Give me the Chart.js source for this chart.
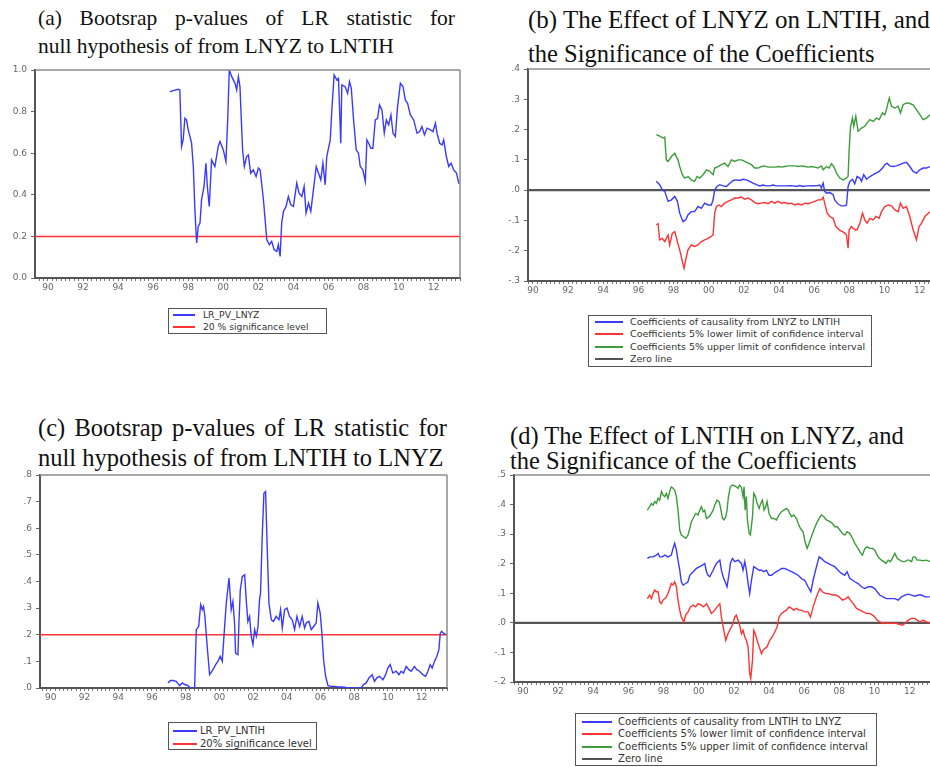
<!DOCTYPE html>
<html>
<head>
<meta charset="utf-8">
<script src="https://cdn.jsdelivr.net/npm/chart.js@4.4.1/dist/chart.umd.min.js"></script>
<style>
  html, body { margin: 0; padding: 0; background: #fff; }
  body { position: relative; width: 930px; height: 767px; overflow: hidden; }
  .ttl { position: absolute; font-family: 'Liberation Serif', 'Times New Roman', serif; color: #111; line-height: 1; white-space: nowrap; }
  .just { white-space: normal; text-align: justify; text-align-last: justify; }
  .box { position: absolute; }
  .box canvas { display: block; }
  .lg { position: absolute; box-sizing: border-box; border: 1px solid #555; background: #fff;
        font-family: 'DejaVu Sans', sans-serif; color: #333; }
  .lg .row { position: relative; }
  .lg .smp { position: absolute; height: 2px; top: 50%; margin-top: -1px; }
  .lg .txt { position: absolute; top: 50%; transform: translateY(-50%); line-height: 1; white-space: nowrap; }
</style>
</head>
<body>

<div class="ttl just" style="left:38px;top:8px;width:417px;font-size:21.5px">(a) Bootsrap p-values of LR statistic for</div>
<div class="ttl" style="left:38px;top:36px;font-size:21.5px">null hypothesis of from LNYZ to LNTIH</div>

<div class="ttl" style="left:528px;top:7px;font-size:25px">(b) The Effect of LNYZ on LNTIH, and</div>
<div class="ttl" style="left:528px;top:42px;font-size:24.5px">the Significance of the Coefficients</div>

<div class="ttl just" style="left:38px;top:416px;width:409px;font-size:24.5px">(c) Bootsrap p-values of LR statistic for</div>
<div class="ttl" style="left:38px;top:446px;font-size:24.5px">null hypothesis of from LNTIH to LNYZ</div>

<div class="ttl" style="left:510px;top:424px;font-size:24.5px">(d) The Effect of LNTIH on LNYZ, and</div>
<div class="ttl" style="left:510px;top:449px;font-size:24.5px">the Significance of the Coefficients</div>

<div class="box" style="left:0px;top:60px;width:466px;height:240px"><canvas id="chartA"></canvas></div>
<div class="box" style="left:498px;top:59px;width:454px;height:244px"><canvas id="chartB"></canvas></div>
<div class="box" style="left:5px;top:465px;width:448px;height:245px"><canvas id="chartC"></canvas></div>
<div class="box" style="left:484px;top:465px;width:458px;height:239px"><canvas id="chartD"></canvas></div>

<div class="lg" id="legA" style="left:168px;top:308px;width:159px;height:26px;font-size:9.2px"></div>
<div class="lg" id="legB" style="left:588px;top:315px;width:284px;height:52px;font-size:9.5px"></div>
<div class="lg" id="legC" style="left:168px;top:722px;width:149px;height:28px;font-size:10px"></div>
<div class="lg" id="legD" style="left:575px;top:713px;width:302px;height:53px;font-size:10.1px"></div>

<script>
// x axis: years, labelled every second year
const xTickYears = [1990, 1992, 1994, 1996, 1998, 2000, 2002, 2004, 2006, 2008, 2010, 2012];
const xTickLabels = ['90', '92', '94', '96', '98', '00', '02', '04', '06', '08', '10', '12'];

const aYTicks = [0, 0.2, 0.4, 0.6, 0.8, 1.0];
const aYLabels = ['0.0', '0.2', '0.4', '0.6', '0.8', '1.0'];
const bYTicks = [-0.3, -0.2, -0.1, 0, 0.1, 0.2, 0.3, 0.4];
const bYLabels = ['-.3', '-.2', '-.1', '.0', '.1', '.2', '.3', '.4'];
const cYTicks = [0, 0.1, 0.2, 0.3, 0.4, 0.5, 0.6, 0.7, 0.8];
const cYLabels = ['.0', '.1', '.2', '.3', '.4', '.5', '.6', '.7', '.8'];
const dYTicks = [-0.2, -0.1, 0, 0.1, 0.2, 0.3, 0.4, 0.5];
const dYLabels = ['-.2', '-.1', '.0', '.1', '.2', '.3', '.4', '.5'];

const sigLevel = 0.2;
const zeroLevel = 0;

// (a) bootstrap p-values, LNYZ -> LNTIH
const aDates = [
  1996.95, 1997.14, 1997.43, 1997.52, 1997.62, 1997.71, 1997.81, 1997.90, 1998.00, 1998.10,
  1998.19, 1998.29, 1998.38, 1998.48, 1998.57, 1998.67, 1998.76, 1998.90, 1999.01, 1999.09,
  1999.20, 1999.33, 1999.52, 1999.71, 1999.81, 2000.00, 2000.15, 2000.25, 2000.34, 2000.48,
  2000.67, 2000.76, 2000.86, 2000.95, 2001.10, 2001.20, 2001.33, 2001.43, 2001.56, 2001.71,
  2001.87, 2002.00, 2002.10, 2002.29, 2002.48, 2002.63, 2002.76, 2002.90, 2003.05, 2003.14,
  2003.24, 2003.33, 2003.43, 2003.58, 2003.71, 2003.85, 2004.00, 2004.19, 2004.32, 2004.48,
  2004.61, 2004.72, 2004.86, 2004.99, 2005.14, 2005.30, 2005.43, 2005.56, 2005.68, 2005.81,
  2005.90, 2006.10, 2006.19, 2006.32, 2006.48, 2006.57, 2006.70, 2006.76, 2006.95, 2007.09,
  2007.20, 2007.30, 2007.43, 2007.58, 2007.71, 2007.81, 2007.96, 2008.10, 2008.19, 2008.29,
  2008.42, 2008.53, 2008.67, 2008.80, 2008.91, 2009.05, 2009.18, 2009.30, 2009.43, 2009.56,
  2009.68, 2009.81, 2009.94, 2010.10, 2010.25, 2010.38, 2010.51, 2010.67, 2010.86, 2011.05,
  2011.20, 2011.33, 2011.47, 2011.62, 2011.81, 2011.96, 2012.10, 2012.19, 2012.34, 2012.48,
  2012.57, 2012.72, 2012.86, 2012.99, 2013.14, 2013.30, 2013.43, 2013.49
];
const aPv = [
  0.896, 0.901, 0.907, 0.904, 0.632, 0.664, 0.768, 0.760, 0.712, 0.680,
  0.648, 0.536, 0.328, 0.168, 0.248, 0.264, 0.376, 0.440, 0.552, 0.440,
  0.344, 0.568, 0.536, 0.632, 0.656, 0.616, 0.560, 0.760, 1.000, 0.968,
  0.936, 0.904, 0.968, 0.920, 0.616, 0.536, 0.584, 0.592, 0.504, 0.520,
  0.488, 0.528, 0.520, 0.376, 0.184, 0.160, 0.176, 0.136, 0.128, 0.160,
  0.104, 0.264, 0.320, 0.344, 0.392, 0.352, 0.344, 0.456, 0.408, 0.392,
  0.440, 0.312, 0.360, 0.320, 0.424, 0.536, 0.504, 0.472, 0.552, 0.448,
  0.584, 0.664, 0.808, 0.976, 0.952, 0.960, 0.648, 0.928, 0.920, 0.888,
  0.944, 0.912, 0.760, 0.616, 0.600, 0.536, 0.520, 0.464, 0.664, 0.648,
  0.624, 0.624, 0.760, 0.768, 0.832, 0.808, 0.696, 0.760, 0.736, 0.784,
  0.696, 0.680, 0.824, 0.936, 0.920, 0.856, 0.840, 0.784, 0.760, 0.696,
  0.704, 0.728, 0.688, 0.720, 0.712, 0.704, 0.744, 0.696, 0.648, 0.640,
  0.664, 0.584, 0.536, 0.552, 0.520, 0.504, 0.456, 0.456
];

// (b) effect of LNYZ on LNTIH
const bCoefDates = [
  1997.02, 1997.21, 1997.36, 1997.50, 1997.69, 1997.88, 1998.07, 1998.22, 1998.35, 1998.54,
  1998.69, 1998.82, 1999.01, 1999.20, 1999.39, 1999.58, 1999.77, 1999.96, 2000.15, 2000.25,
  2000.34, 2000.47, 2000.63, 2000.82, 2001.01, 2001.20, 2001.39, 2001.58, 2001.77, 2001.95,
  2002.14, 2002.33, 2002.52, 2002.71, 2002.90, 2003.09, 2003.28, 2003.47, 2003.66, 2003.85,
  2004.04, 2004.23, 2004.42, 2004.61, 2004.80, 2004.99, 2005.18, 2005.37, 2005.56, 2005.75,
  2005.94, 2006.13, 2006.32, 2006.41, 2006.51, 2006.60, 2006.70, 2006.89, 2007.08, 2007.17,
  2007.36, 2007.55, 2007.74, 2007.84, 2007.93, 2008.03, 2008.18, 2008.31, 2008.44, 2008.60,
  2008.69, 2008.82, 2008.98, 2009.17, 2009.36, 2009.51, 2009.70, 2009.89, 2010.02, 2010.15,
  2010.30, 2010.49, 2010.68, 2010.87, 2011.06, 2011.25, 2011.44, 2011.63, 2011.82, 2012.01,
  2012.20, 2012.39, 2012.58
];
const bCoef = [
  0.029, 0.018, 0.001, -0.004, -0.037, -0.032, -0.021, -0.037, -0.076, -0.104,
  -0.098, -0.082, -0.071, -0.071, -0.054, -0.060, -0.043, -0.049, -0.049, -0.032,
  0.001, 0.012, 0.018, 0.014, 0.012, 0.023, 0.032, 0.034, 0.032, 0.036,
  0.034, 0.029, 0.023, 0.018, 0.014, 0.017, 0.014, 0.014, 0.017, 0.014,
  0.014, 0.014, 0.014, 0.015, 0.014, 0.012, 0.015, 0.012, 0.014, 0.014,
  0.015, 0.014, 0.017, 0.007, 0.023, -0.004, -0.010, -0.008, -0.015, -0.032,
  -0.046, -0.052, -0.052, -0.049, 0.012, 0.029, 0.036, 0.021, 0.045, 0.040,
  0.029, 0.051, 0.036, 0.045, 0.051, 0.056, 0.062, 0.073, 0.084, 0.089,
  0.080, 0.078, 0.080, 0.084, 0.089, 0.092, 0.078, 0.062, 0.056, 0.067,
  0.073, 0.073, 0.078
];
const bLowDates = [
  1997.02, 1997.12, 1997.21, 1997.36, 1997.50, 1997.69, 1997.78, 1997.93, 1998.07, 1998.22,
  1998.35, 1998.48, 1998.60, 1998.69, 1998.82, 1999.01, 1999.20, 1999.39, 1999.58, 1999.77,
  1999.96, 2000.15, 2000.25, 2000.34, 2000.44, 2000.59, 2000.72, 2000.91, 2001.10, 2001.29,
  2001.48, 2001.67, 2001.86, 2002.05, 2002.24, 2002.43, 2002.62, 2002.81, 2003.00, 2003.19,
  2003.38, 2003.57, 2003.76, 2003.95, 2004.14, 2004.33, 2004.52, 2004.71, 2004.90, 2005.09,
  2005.28, 2005.47, 2005.66, 2005.84, 2006.03, 2006.22, 2006.41, 2006.51, 2006.60, 2006.74,
  2006.89, 2007.08, 2007.23, 2007.42, 2007.61, 2007.74, 2007.84, 2007.93, 2007.99, 2008.12,
  2008.31, 2008.44, 2008.60, 2008.75, 2008.88, 2009.01, 2009.17, 2009.36, 2009.51, 2009.70,
  2009.83, 2010.02, 2010.21, 2010.40, 2010.59, 2010.78, 2010.91, 2011.06, 2011.25, 2011.44,
  2011.63, 2011.82, 2011.97, 2012.11, 2012.30, 2012.49, 2012.58
];
const bLow = [
  -0.115, -0.111, -0.164, -0.159, -0.170, -0.148, -0.181, -0.142, -0.137, -0.170,
  -0.197, -0.230, -0.258, -0.230, -0.197, -0.181, -0.186, -0.181, -0.170, -0.164,
  -0.159, -0.153, -0.148, -0.076, -0.054, -0.049, -0.054, -0.043, -0.037, -0.032,
  -0.026, -0.026, -0.023, -0.030, -0.026, -0.032, -0.041, -0.045, -0.043, -0.041,
  -0.045, -0.037, -0.043, -0.037, -0.043, -0.041, -0.045, -0.043, -0.049, -0.045,
  -0.049, -0.043, -0.045, -0.041, -0.037, -0.032, -0.032, -0.023, -0.043, -0.076,
  -0.087, -0.093, -0.120, -0.131, -0.137, -0.142, -0.148, -0.192, -0.131, -0.120,
  -0.131, -0.131, -0.109, -0.076, -0.098, -0.109, -0.093, -0.098, -0.087, -0.093,
  -0.071, -0.054, -0.049, -0.052, -0.065, -0.071, -0.043, -0.060, -0.054, -0.087,
  -0.131, -0.164, -0.120, -0.109, -0.087, -0.076, -0.071
];
const bUpDates = [
  1997.02, 1997.21, 1997.40, 1997.50, 1997.59, 1997.69, 1997.88, 1998.07, 1998.25, 1998.35,
  1998.50, 1998.63, 1998.82, 1999.01, 1999.20, 1999.34, 1999.49, 1999.68, 1999.87, 2000.06,
  2000.25, 2000.34, 2000.53, 2000.72, 2000.91, 2001.10, 2001.29, 2001.48, 2001.67, 2001.86,
  2002.05, 2002.24, 2002.43, 2002.62, 2002.81, 2003.00, 2003.19, 2003.38, 2003.57, 2003.76,
  2003.95, 2004.14, 2004.33, 2004.52, 2004.71, 2004.90, 2005.09, 2005.28, 2005.47, 2005.66,
  2005.84, 2006.03, 2006.22, 2006.41, 2006.51, 2006.70, 2006.85, 2006.98, 2007.12, 2007.27,
  2007.46, 2007.65, 2007.84, 2007.93, 2007.99, 2008.07, 2008.18, 2008.25, 2008.37, 2008.50,
  2008.69, 2008.88, 2009.01, 2009.17, 2009.36, 2009.55, 2009.70, 2009.89, 2010.02, 2010.11,
  2010.27, 2010.40, 2010.59, 2010.78, 2010.91, 2011.06, 2011.25, 2011.44, 2011.63, 2011.82,
  2012.01, 2012.20, 2012.39, 2012.58
];
const bUp = [
  0.183, 0.178, 0.172, 0.175, 0.100, 0.095, 0.111, 0.122, 0.100, 0.078,
  0.051, 0.040, 0.045, 0.034, 0.029, 0.045, 0.040, 0.051, 0.067, 0.062,
  0.051, 0.073, 0.078, 0.084, 0.089, 0.078, 0.100, 0.095, 0.100, 0.100,
  0.095, 0.089, 0.084, 0.073, 0.073, 0.078, 0.080, 0.076, 0.076, 0.076,
  0.078, 0.076, 0.078, 0.080, 0.080, 0.080, 0.078, 0.080, 0.078, 0.076,
  0.078, 0.076, 0.073, 0.080, 0.067, 0.078, 0.073, 0.087, 0.078, 0.056,
  0.040, 0.034, 0.040, 0.045, 0.133, 0.211, 0.238, 0.211, 0.244, 0.194,
  0.205, 0.211, 0.222, 0.233, 0.227, 0.238, 0.233, 0.255, 0.249, 0.266,
  0.304, 0.277, 0.271, 0.277, 0.255, 0.282, 0.288, 0.286, 0.282, 0.266,
  0.249, 0.233, 0.238, 0.249
];

// (c) bootstrap p-values, LNTIH -> LNYZ
const cDates = [
  1996.95, 1997.09, 1997.25, 1997.44, 1997.64, 1997.80, 1997.94, 1998.14, 1998.27, 1998.43,
  1998.53, 1998.63, 1998.77, 1998.89, 1998.99, 1999.06, 1999.14, 1999.26, 1999.42, 1999.62,
  1999.78, 1999.91, 2000.05, 2000.17, 2000.27, 2000.41, 2000.57, 2000.70, 2000.80, 2000.90,
  2000.96, 2001.10, 2001.16, 2001.24, 2001.36, 2001.50, 2001.59, 2001.69, 2001.79, 2001.89,
  2001.99, 2002.09, 2002.19, 2002.29, 2002.38, 2002.44, 2002.54, 2002.64, 2002.74, 2002.84,
  2002.94, 2003.08, 2003.21, 2003.37, 2003.53, 2003.63, 2003.73, 2003.87, 2004.01, 2004.16,
  2004.32, 2004.46, 2004.60, 2004.76, 2004.91, 2005.05, 2005.15, 2005.31, 2005.45, 2005.59,
  2005.74, 2005.84, 2005.98, 2006.08, 2006.18, 2006.30, 2006.44, 2006.63, 2006.83, 2007.03,
  2007.23, 2007.42, 2007.62, 2007.82, 2008.02, 2008.21, 2008.41, 2008.55, 2008.71, 2008.87,
  2009.06, 2009.20, 2009.34, 2009.50, 2009.70, 2009.86, 2009.99, 2010.13, 2010.29, 2010.49,
  2010.65, 2010.78, 2010.92, 2011.08, 2011.24, 2011.38, 2011.57, 2011.71, 2011.87, 2012.07,
  2012.23, 2012.37, 2012.50, 2012.62, 2012.76, 2012.90, 2013.02, 2013.10, 2013.18, 2013.29,
  2013.45
];
const cPv = [
  0.019, 0.028, 0.028, 0.025, 0.009, 0.019, 0.013, 0.009, 0.000, 0.000,
  0.000, 0.219, 0.231, 0.313, 0.294, 0.306, 0.269, 0.169, 0.050, 0.069,
  0.088, 0.100, 0.119, 0.100, 0.194, 0.319, 0.413, 0.294, 0.325, 0.244,
  0.131, 0.125, 0.244, 0.369, 0.419, 0.425, 0.331, 0.250, 0.269, 0.194,
  0.163, 0.219, 0.194, 0.231, 0.331, 0.356, 0.569, 0.731, 0.738, 0.519,
  0.319, 0.256, 0.250, 0.269, 0.256, 0.294, 0.225, 0.294, 0.300, 0.269,
  0.256, 0.219, 0.269, 0.231, 0.269, 0.225, 0.244, 0.250, 0.219, 0.231,
  0.244, 0.319, 0.281, 0.206, 0.106, 0.044, 0.009, 0.006, 0.006, 0.004,
  0.004, 0.003, 0.000, 0.000, 0.000, 0.000, 0.000, 0.013, 0.019, 0.038,
  0.050, 0.025, 0.038, 0.044, 0.031, 0.050, 0.075, 0.088, 0.056, 0.063,
  0.050, 0.063, 0.056, 0.081, 0.069, 0.063, 0.081, 0.069, 0.063, 0.050,
  0.044, 0.063, 0.088, 0.075, 0.100, 0.119, 0.144, 0.206, 0.213, 0.206,
  0.200
];

// (d) effect of LNTIH on LNYZ
const dCoefDates = [
  1997.08, 1997.21, 1997.40, 1997.59, 1997.69, 1997.78, 1997.93, 1998.07, 1998.25, 1998.44,
  1998.54, 1998.63, 1998.73, 1998.82, 1998.92, 1999.01, 1999.11, 1999.26, 1999.39, 1999.49,
  1999.68, 1999.87, 2000.06, 2000.21, 2000.34, 2000.44, 2000.53, 2000.63, 2000.72, 2000.82,
  2000.91, 2001.01, 2001.10, 2001.20, 2001.29, 2001.39, 2001.54, 2001.61, 2001.73, 2001.80,
  2001.92, 2002.05, 2002.24, 2002.43, 2002.52, 2002.62, 2002.71, 2002.81, 2002.90, 2003.00,
  2003.13, 2003.28, 2003.44, 2003.57, 2003.70, 2003.85, 2004.00, 2004.14, 2004.27, 2004.42,
  2004.57, 2004.71, 2004.90, 2005.09, 2005.28, 2005.47, 2005.66, 2005.84, 2006.03, 2006.22,
  2006.38, 2006.51, 2006.70, 2006.85, 2006.98, 2007.17, 2007.36, 2007.55, 2007.74, 2007.93,
  2008.12, 2008.31, 2008.44, 2008.60, 2008.75, 2008.88, 2009.07, 2009.26, 2009.45, 2009.64,
  2009.83, 2010.02, 2010.15, 2010.30, 2010.49, 2010.68, 2010.91, 2011.16, 2011.35, 2011.54,
  2011.73, 2011.92, 2012.11, 2012.30, 2012.49, 2012.68, 2012.87, 2013.06, 2013.15
];
const dCoef = [
  0.218, 0.223, 0.223, 0.229, 0.235, 0.223, 0.223, 0.229, 0.223, 0.229,
  0.252, 0.269, 0.246, 0.212, 0.178, 0.139, 0.128, 0.133, 0.139, 0.161,
  0.173, 0.184, 0.190, 0.195, 0.201, 0.173, 0.161, 0.156, 0.167, 0.178,
  0.190, 0.201, 0.207, 0.212, 0.178, 0.156, 0.133, 0.122, 0.167, 0.201,
  0.218, 0.207, 0.212, 0.201, 0.178, 0.207, 0.178, 0.133, 0.099, 0.144,
  0.190, 0.184, 0.178, 0.178, 0.173, 0.178, 0.161, 0.161, 0.167, 0.173,
  0.178, 0.184, 0.184, 0.178, 0.173, 0.167, 0.161, 0.150, 0.144, 0.122,
  0.105, 0.144, 0.190, 0.223, 0.218, 0.207, 0.201, 0.195, 0.190, 0.178,
  0.167, 0.161, 0.173, 0.150, 0.144, 0.139, 0.133, 0.122, 0.116, 0.122,
  0.122, 0.116, 0.105, 0.094, 0.088, 0.082, 0.082, 0.082, 0.077, 0.088,
  0.094, 0.097, 0.094, 0.090, 0.094, 0.094, 0.088, 0.088, 0.088
];
const dLowDates = [
  1997.08, 1997.21, 1997.31, 1997.40, 1997.50, 1997.59, 1997.69, 1997.78, 1997.88, 1997.97,
  1998.07, 1998.16, 1998.25, 1998.35, 1998.44, 1998.54, 1998.63, 1998.73, 1998.82, 1998.92,
  1999.01, 1999.15, 1999.26, 1999.39, 1999.53, 1999.68, 1999.83, 1999.96, 2000.15, 2000.28,
  2000.44, 2000.59, 2000.72, 2000.82, 2000.91, 2001.04, 2001.20, 2001.29, 2001.39, 2001.54,
  2001.67, 2001.76, 2001.86, 2001.95, 2002.05, 2002.14, 2002.24, 2002.33, 2002.43, 2002.52,
  2002.62, 2002.71, 2002.81, 2002.90, 2002.96, 2003.06, 2003.13, 2003.21, 2003.32, 2003.44,
  2003.57, 2003.66, 2003.76, 2003.89, 2004.04, 2004.19, 2004.33, 2004.46, 2004.57, 2004.71,
  2004.84, 2004.99, 2005.14, 2005.28, 2005.41, 2005.56, 2005.71, 2005.84, 2006.03, 2006.22,
  2006.36, 2006.51, 2006.70, 2006.89, 2007.04, 2007.23, 2007.42, 2007.61, 2007.80, 2007.99,
  2008.18, 2008.37, 2008.50, 2008.63, 2008.79, 2008.98, 2009.17, 2009.36, 2009.54, 2009.73,
  2009.89, 2010.02, 2010.15, 2010.30, 2010.49, 2010.68, 2010.87, 2011.06, 2011.25, 2011.44,
  2011.59, 2011.73, 2011.92, 2012.11, 2012.30, 2012.43, 2012.58, 2012.77, 2012.96, 2013.15
];
const dLow = [
  0.082, 0.094, 0.082, 0.099, 0.111, 0.105, 0.105, 0.071, 0.065, 0.077,
  0.082, 0.088, 0.099, 0.116, 0.133, 0.128, 0.139, 0.122, 0.077, 0.043,
  0.020, 0.003, 0.026, 0.037, 0.054, 0.060, 0.054, 0.065, 0.060, 0.054,
  0.065, 0.049, 0.032, 0.037, 0.043, 0.054, 0.065, 0.020, -0.014, -0.059,
  -0.036, -0.025, -0.014, -0.002, 0.020, 0.026, 0.009, -0.008, -0.036, -0.025,
  -0.047, -0.059, -0.081, -0.171, -0.188, -0.126, -0.025, -0.036, -0.059, -0.081,
  -0.104, -0.093, -0.087, -0.081, -0.059, -0.047, -0.030, -0.014, 0.020, 0.032,
  0.037, 0.043, 0.054, 0.049, 0.043, 0.049, 0.043, 0.043, 0.037, 0.037,
  0.020, 0.054, 0.088, 0.116, 0.105, 0.099, 0.099, 0.094, 0.094, 0.088,
  0.077, 0.082, 0.088, 0.077, 0.065, 0.049, 0.043, 0.037, 0.032, 0.032,
  0.026, 0.020, 0.009, 0.003, -0.002, 0.000, -0.002, 0.000, -0.002, -0.005,
  -0.008, -0.002, 0.009, 0.015, 0.015, 0.009, 0.003, 0.009, 0.003, 0.000
];
const dUpDates = [
  1997.08, 1997.21, 1997.31, 1997.40, 1997.50, 1997.59, 1997.69, 1997.78, 1997.88, 1997.97,
  1998.07, 1998.16, 1998.25, 1998.35, 1998.44, 1998.54, 1998.63, 1998.73, 1998.82, 1998.92,
  1999.01, 1999.15, 1999.26, 1999.39, 1999.49, 1999.58, 1999.68, 1999.83, 1999.96, 2000.06,
  2000.15, 2000.25, 2000.34, 2000.44, 2000.59, 2000.72, 2000.82, 2000.91, 2001.04, 2001.16,
  2001.23, 2001.35, 2001.44, 2001.54, 2001.61, 2001.69, 2001.80, 2001.92, 2002.05, 2002.14,
  2002.24, 2002.33, 2002.43, 2002.52, 2002.58, 2002.64, 2002.71, 2002.77, 2002.87, 2002.94,
  2003.06, 2003.13, 2003.23, 2003.32, 2003.44, 2003.53, 2003.62, 2003.72, 2003.81, 2003.89,
  2004.00, 2004.14, 2004.27, 2004.42, 2004.57, 2004.71, 2004.84, 2004.99, 2005.09, 2005.18,
  2005.28, 2005.41, 2005.56, 2005.66, 2005.79, 2005.94, 2006.05, 2006.17, 2006.28, 2006.41,
  2006.55, 2006.70, 2006.85, 2006.98, 2007.12, 2007.27, 2007.46, 2007.61, 2007.74, 2007.88,
  2008.03, 2008.18, 2008.31, 2008.44, 2008.60, 2008.75, 2008.88, 2009.01, 2009.17, 2009.32,
  2009.45, 2009.58, 2009.73, 2009.89, 2010.02, 2010.15, 2010.27, 2010.40, 2010.53, 2010.65,
  2010.78, 2010.91, 2011.06, 2011.16, 2011.29, 2011.44, 2011.59, 2011.73, 2011.86, 2011.97,
  2012.11, 2012.20, 2012.30, 2012.43, 2012.58, 2012.77, 2012.96, 2013.15
];
const dUp = [
  0.381, 0.393, 0.404, 0.398, 0.410, 0.404, 0.421, 0.415, 0.444, 0.432,
  0.427, 0.438, 0.421, 0.444, 0.460, 0.455, 0.449, 0.427, 0.381, 0.314,
  0.297, 0.291, 0.286, 0.297, 0.319, 0.342, 0.353, 0.370, 0.365, 0.381,
  0.393, 0.376, 0.381, 0.353, 0.359, 0.370, 0.381, 0.398, 0.415, 0.410,
  0.393, 0.353, 0.348, 0.359, 0.381, 0.427, 0.460, 0.466, 0.463, 0.460,
  0.455, 0.466, 0.458, 0.427, 0.460, 0.381, 0.427, 0.348, 0.302, 0.297,
  0.359, 0.438, 0.427, 0.404, 0.387, 0.404, 0.415, 0.381, 0.393, 0.410,
  0.370, 0.353, 0.353, 0.348, 0.365, 0.376, 0.381, 0.387, 0.381, 0.370,
  0.359, 0.365, 0.353, 0.336, 0.319, 0.308, 0.274, 0.252, 0.269, 0.291,
  0.314, 0.336, 0.353, 0.365, 0.359, 0.348, 0.342, 0.336, 0.325, 0.325,
  0.314, 0.302, 0.297, 0.308, 0.302, 0.286, 0.269, 0.257, 0.240, 0.229,
  0.252, 0.257, 0.252, 0.252, 0.246, 0.229, 0.218, 0.212, 0.207, 0.201,
  0.212, 0.207, 0.223, 0.235, 0.218, 0.212, 0.207, 0.207, 0.212, 0.212,
  0.207, 0.223, 0.223, 0.212, 0.212, 0.210, 0.212, 0.207
];

const BLUE = '#3a3aff';
const RED = '#ff3333';
const GREEN = '#3c9c3c';
const ZERO = '#555555';

function pts(xs, ys) {
  return xs.map((x, i) => ({ x: x, y: ys[i] }));
}

function flat(label, y, color, xmin, xmax, width) {
  return { label: label, data: [{ x: xmin, y: y }, { x: xmax, y: y }], borderColor: color, borderWidth: width };
}

// draws the grey top (and right) frame lines of the plot box
const framePlugin = {
  id: 'frame',
  afterDatasetsDraw(chart, args, opts) {
    const ctx = chart.ctx, a = chart.chartArea;
    ctx.save();
    ctx.strokeStyle = '#8c8c8c';
    ctx.lineWidth = 1.5;
    ctx.beginPath();
    ctx.moveTo(a.left, a.top);
    ctx.lineTo(a.right, a.top);
    if (opts.right) {
      ctx.moveTo(a.right, a.top);
      ctx.lineTo(a.right, a.bottom);
    }
    ctx.stroke();
    ctx.restore();
  }
};

function makeChart(id, xmin, xmax, ymin, ymax, yTicks, yLabels, yW, datasets, rightFrame) {
  return new Chart(document.getElementById(id), {
    type: 'line',
    data: { datasets: datasets },
    plugins: [framePlugin],
    options: {
      animation: false,
      responsive: true,
      maintainAspectRatio: false,
      events: [],
      layout: { padding: { top: 10, right: 6, left: 0, bottom: 0 } },
      elements: { point: { radius: 0 }, line: { borderWidth: 1.4, tension: 0 } },
      plugins: { legend: { display: false }, tooltip: { enabled: false }, frame: { right: rightFrame } },
      scales: {
        x: {
          type: 'linear', min: xmin, max: xmax,
          afterBuildTicks: s => {
            const t = [];
            for (let q = Math.ceil(s.min * 4); q <= Math.floor(s.max * 4); q++) t.push({ value: q / 4 });
            s.ticks = t;
          },
          afterFit: s => { s.height = 22; },
          border: { display: true, color: '#555', width: 2 },
          grid: { drawOnChartArea: false, drawTicks: true, tickLength: 3, color: '#777' },
          ticks: {
            autoSkip: false, maxRotation: 0, minRotation: 0, padding: 1, color: '#666',
            font: { family: 'DejaVu Sans', size: 9 },
            callback: v => { const i = xTickYears.indexOf(v); return i < 0 ? '' : xTickLabels[i]; }
          }
        },
        y: {
          type: 'linear', min: ymin, max: ymax,
          afterBuildTicks: s => { s.ticks = yTicks.map(v => ({ value: v })); },
          afterFit: s => { s.width = yW; },
          border: { display: true, color: '#555', width: 2 },
          grid: { drawOnChartArea: false, drawTicks: true, tickLength: 4, color: '#666' },
          ticks: { padding: 4, color: '#666', font: { family: 'DejaVu Sans', size: 9 }, callback: (v, i) => yLabels[i] }
        }
      }
    }
  });
}

function drawLegend(id, chart, rowH, padTop, smpLeft, smpW, txtLeft) {
  const box = document.getElementById(id);
  box.style.paddingTop = padTop + 'px';
  chart.data.datasets.forEach(ds => {
    const row = document.createElement('div');
    row.className = 'row';
    row.style.height = rowH + 'px';
    const s = document.createElement('span');
    s.className = 'smp';
    s.style.left = smpLeft + 'px';
    s.style.width = smpW + 'px';
    s.style.background = ds.borderColor;
    const t = document.createElement('span');
    t.className = 'txt';
    t.style.left = txtLeft + 'px';
    t.textContent = ds.label;
    row.appendChild(s);
    row.appendChild(t);
    box.appendChild(row);
  });
}

const aMin = 1989.26, aMax = 2013.5;
const chartA = makeChart('chartA', aMin, aMax, 0, 1, aYTicks, aYLabels, 35, [
  { label: 'LR_PV_LNYZ', data: pts(aDates, aPv), borderColor: BLUE },
  flat('20 % significance level', sigLevel, RED, aMin, aMax, 1.5)
], true);

const bMin = 1989.72, bMax = 2013.5;
const chartB = makeChart('chartB', bMin, bMax, -0.3, 0.4, bYTicks, bYLabels, 30, [
  { label: 'Coefficients of causality from LNYZ to LNTIH', data: pts(bCoefDates, bCoef), borderColor: BLUE },
  { label: 'Coefficients 5% lower limit of confidence interval', data: pts(bLowDates, bLow), borderColor: RED },
  { label: 'Coefficients 5% upper limit of confidence interval', data: pts(bUpDates, bUp), borderColor: GREEN },
  flat('Zero line', zeroLevel, ZERO, bMin, bMax, 2.2)
], false);

const cMin = 1989.36, cMax = 2013.5;
const chartC = makeChart('chartC', cMin, cMax, 0, 0.8, cYTicks, cYLabels, 35, [
  { label: 'LR_PV_LNTIH', data: pts(cDates, cPv), borderColor: BLUE },
  flat('20% significance level', sigLevel, RED, cMin, cMax, 1.5)
], true);

const dMin = 1989.49, dMax = 2013.5;
const chartD = makeChart('chartD', dMin, dMax, -0.2, 0.5, dYTicks, dYLabels, 30, [
  { label: 'Coefficients of causality from LNTIH to LNYZ', data: pts(dCoefDates, dCoef), borderColor: BLUE },
  { label: 'Coefficients 5% lower limit of confidence interval', data: pts(dLowDates, dLow), borderColor: RED },
  { label: 'Coefficients 5% upper limit of confidence interval', data: pts(dUpDates, dUp), borderColor: GREEN },
  flat('Zero line', zeroLevel, ZERO, dMin, dMax, 2.2)
], false);

drawLegend('legA', chartA, 12, 0, 4, 22, 34);
drawLegend('legB', chartB, 12.3, 0, 6, 28, 41);
drawLegend('legC', chartC, 13, 1, 4, 24, 31);
drawLegend('legD', chartD, 12.5, 1.5, 6, 30, 42);
</script>
</body>
</html>
